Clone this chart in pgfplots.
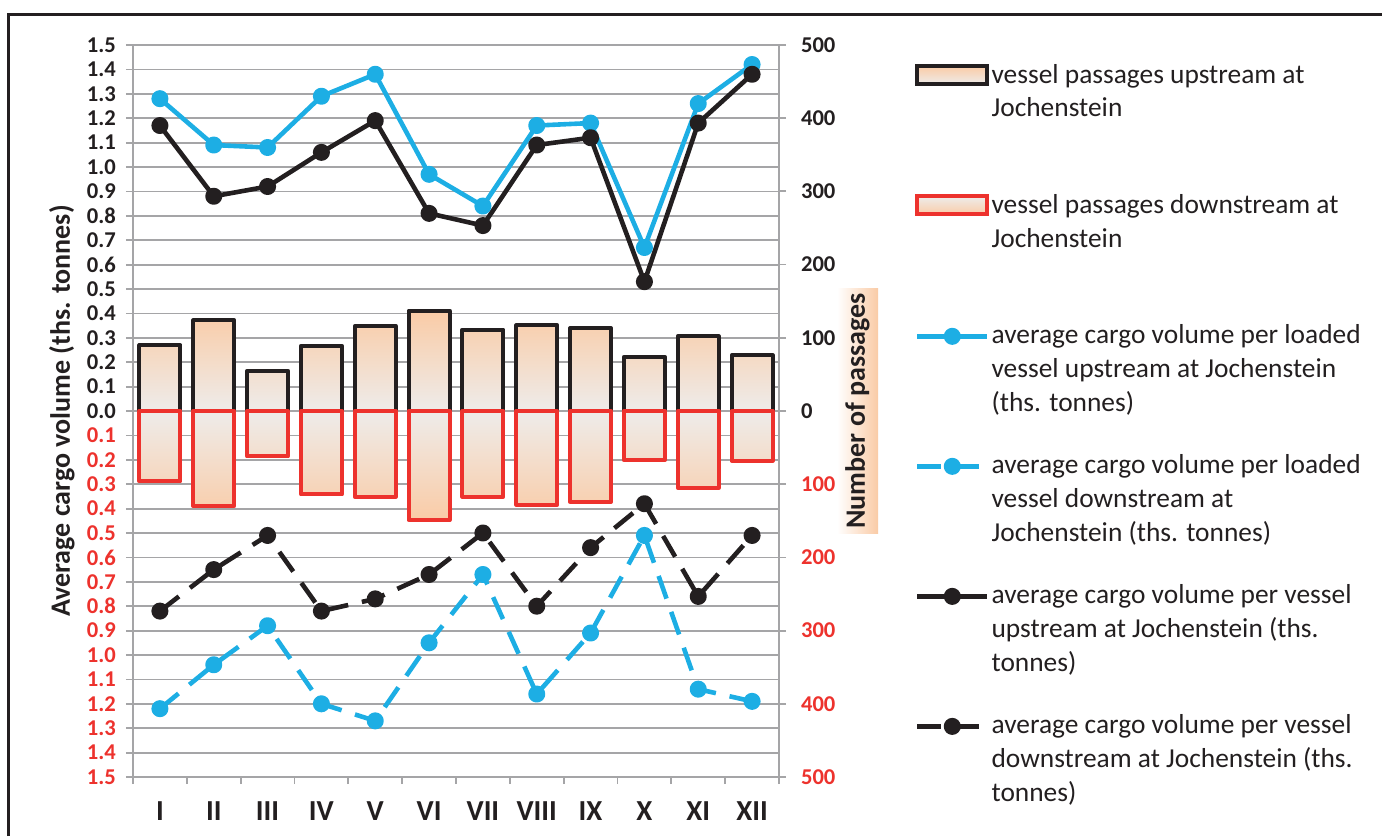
\documentclass[border=0pt]{standalone}
\usepackage{pgfplots}
\pgfplotsset{compat=1.18}
\usepackage{pgfplotstable}
\usepackage{fontspec}
\setmainfont{Carlito}

\definecolor{ccyan}{RGB}{29,174,228}
\definecolor{cblack}{RGB}{35,31,32}
\definecolor{cred}{RGB}{237,50,45}
\definecolor{cgrid}{RGB}{165,165,167}
\definecolor{corange}{RGB}{250,203,166}
\definecolor{cpale}{RGB}{238,236,234}
\newcommand{\rd}[1]{\textcolor{cred}{#1}}
\newcommand{\tickfont}{\fontsize{11.3}{13}\selectfont\bfseries\color{cblack}}
% legend text: top line on the baseline, no depth, so rows are spaced by row sep only
\newcommand{\lgd}[1]{\raisebox{0pt}[\height][0pt]{\parbox[t]{200pt}{#1}}}

% month, passages up/down, avg cargo per loaded vessel up/down, avg cargo per vessel up/down
\pgfplotstableread{
m  pup  pdown  lup   ldown  vup   vdown
1  90   -96    1.28  -1.22  1.17  -0.82
2  124  -130   1.09  -1.04  0.88  -0.65
3  55   -62    1.08  -0.88  0.92  -0.51
4  89   -114   1.29  -1.20  1.06  -0.82
5  116  -117   1.38  -1.27  1.19  -0.77
6  137  -149   0.97  -0.95  0.81  -0.67
7  111  -117   0.84  -0.67  0.76  -0.50
8  117  -128   1.17  -1.16  1.09  -0.80
9  113  -124   1.18  -0.91  1.12  -0.56
10 74   -67    0.67  -0.51  0.53  -0.38
11 102  -105   1.26  -1.14  1.18  -0.76
12 76   -68    1.42  -1.19  1.38  -0.51
}\data

\pgfplotsset{
  base/.style={scale only axis, width=323pt, height=366pt,
    at={(66.5pt,29.5pt)}, anchor=south west, xmin=0.5, xmax=12.5},
  barlegend/.style={legend image code/.code={
    \draw[##1] (0pt,-0.6pt) rectangle (35pt,8.4pt);}},
  linelegend/.style={legend image code/.code={
    \draw[mark repeat=2,mark phase=2,##1] plot coordinates {(0pt,3.6pt)(17.5pt,3.6pt)(35pt,3.6pt)};}},
  cline/.style={line width=2.3pt, mark=*, mark size=3.1pt, line join=round,
    mark options={solid}, linelegend},
  dline/.style={cline, dash pattern=on 12pt off 7pt},
}

\begin{document}
\begin{tikzpicture}
\path[use as bounding box] (0pt,0pt) rectangle (691pt,418pt);
\draw[cblack, line width=1.4pt] (4.25pt,0pt) -- (4.25pt,410.75pt) -- (691pt,410.75pt);

% grid, left axis and month labels
\begin{axis}[base,
  ymin=-1.5, ymax=1.5,
  axis line style={cgrid, line width=0.9pt},
  tick style={cgrid, line width=0.9pt},
  tick align=outside, major tick length=3.5pt,
  tick pos=left,
  ymajorgrids, grid style={cgrid, line width=0.9pt},
  ytick={-1.5,-1.4,-1.3,-1.2,-1.1,-1.0,-0.9,-0.8,-0.7,-0.6,-0.5,-0.4,-0.3,-0.2,-0.1,0,
         0.1,0.2,0.3,0.4,0.5,0.6,0.7,0.8,0.9,1.0,1.1,1.2,1.3,1.4,1.5},
  yticklabels={\rd{1.5},\rd{1.4},\rd{1.3},\rd{1.2},\rd{1.1},\rd{1.0},\rd{0.9},\rd{0.8},
         \rd{0.7},\rd{0.6},\rd{0.5},\rd{0.4},\rd{0.3},\rd{0.2},\rd{0.1},0.0,
         0.1,0.2,0.3,0.4,0.5,0.6,0.7,0.8,0.9,1.0,1.1,1.2,1.3,1.4,1.5},
  yticklabel style={font=\tickfont, xshift=-1.5pt},
  xtick={0.5,1.5,...,12.5}, xticklabels={},
  extra x ticks={1,2,...,12},
  extra x tick labels={I,II,III,IV,V,VI,VII,VIII,IX,X,XI,XII},
  extra x tick style={major tick length=0pt},
  xticklabel style={font=\fontsize{14.5}{16}\selectfont\bfseries\color{cblack}, yshift=-9pt},
  ylabel={Average cargo volume (ths. tonnes)},
  every axis y label/.style={at={(axis description cs:-0.11,0.5)}, rotate=90,
    anchor=center, font=\fontsize{14}{16}\selectfont\bfseries, text=cblack},
]
\end{axis}

% passages (bars), right axis
\begin{axis}[base,
  ymin=-500, ymax=500,
  axis x line=none, axis y line*=right,
  axis line style={cgrid, line width=0.9pt},
  tick style={cgrid, line width=0.9pt},
  tick align=outside, major tick length=3.5pt,
  ytick={-500,-400,...,500},
  yticklabels={\rd{500},\rd{400},\rd{300},\rd{200},\rd{100},0,100,200,300,400,500},
  yticklabel style={font=\tickfont, anchor=west, xshift=4pt},
  ylabel={Number of passages},
  every axis y label/.style={at={(axis description cs:1.1215,0.5)}, rotate=90,
    anchor=center, font=\fontsize{14}{16}\selectfont\bfseries, text=cblack,
    left color=white, right color=corange,
    minimum width=122.5pt, minimum height=20.5pt, inner sep=0pt},
  ybar, bar width=20.5pt, bar shift=0pt,
]
\addplot[draw=cblack, line width=2pt, line join=round, top color=corange, bottom color=cpale]
  table[x=m, y=pup]{\data};
\addplot[draw=cred, line width=2pt, line join=round, top color=cpale, bottom color=corange]
  table[x=m, y=pdown]{\data};
\end{axis}

% cargo volume lines and legend
\begin{axis}[base,
  ymin=-1.5, ymax=1.5, axis lines=none,
  legend style={at={(axis description cs:1.2105,0.974)}, anchor=north west,
    draw=none, fill=none, inner sep=0pt, outer sep=0pt, row sep=54pt, column sep=1pt,
    font=\fontsize{13.7}{16.9}\selectfont, text=cblack, cells={anchor=base west},
    nodes={inner sep=0pt}},
]
\addlegendimage{barlegend, draw=cblack, line width=2pt, top color=corange, bottom color=cpale}
\addlegendentry{\lgd{vessel passages upstream at\newline Jochenstein}}
\addlegendimage{barlegend, draw=cred, line width=2pt, top color=cpale, bottom color=corange}
\addlegendentry{\lgd{vessel passages downstream at\newline Jochenstein}}
\addplot[cline, ccyan] table[x=m, y=lup]{\data};
\addlegendentry{\lgd{average cargo volume per loaded\newline vessel upstream at Jochenstein\newline (ths. tonnes)}}
\addplot[dline, ccyan] table[x=m, y=ldown]{\data};
\addlegendentry{\lgd{average cargo volume per loaded\newline vessel downstream at\newline Jochenstein (ths. tonnes)}}
\addplot[cline, cblack] table[x=m, y=vup]{\data};
\addlegendentry{\lgd{average cargo volume per vessel\newline upstream at Jochenstein (ths.\newline tonnes)}}
\addplot[dline, cblack] table[x=m, y=vdown]{\data};
\addlegendentry{\lgd{average cargo volume per vessel\newline downstream at Jochenstein (ths.\newline tonnes)}}
\end{axis}
\end{tikzpicture}
\end{document}
